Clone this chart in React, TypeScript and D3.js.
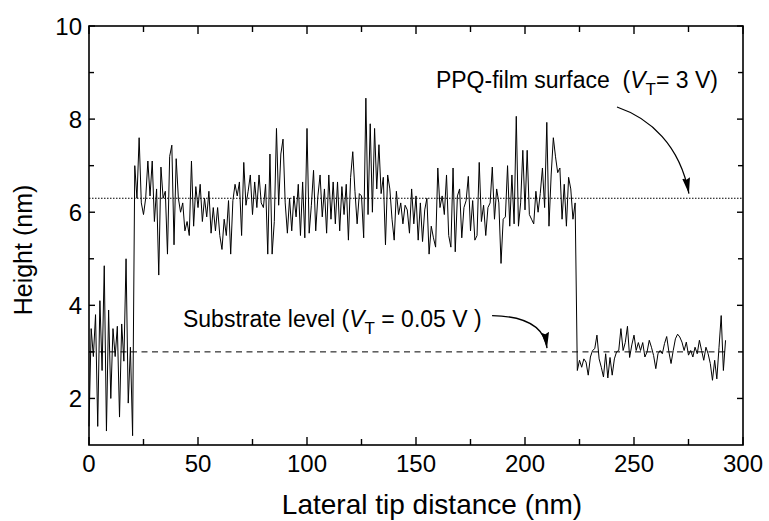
import React, { useEffect, useRef } from "react";
import * as d3 from "d3";

// height profile sampled every `sampleStep` nm along the scan line
const sampleStep = 1;

// bare substrate at the start of the scan (0-20 nm)
const substrateLeft = [
  1.4, 3.5, 2.9, 3.8, 1.4, 4.1, 2.6, 4.85, 1.3, 3.9, 2.0, 3.5, 2.9, 3.55, 1.6,
  3.6, 2.8, 5.0, 1.9, 3.1, 1.2,
];

// PPQ film (21-223 nm)
const filmProfile = [
  7.0, 6.3, 7.6, 6.2, 5.95, 6.3, 7.1, 6.35, 7.1, 5.8, 6.5, 4.65, 6.97, 6.3, 6.45,
  5.1, 7.2, 7.44, 5.3, 7.15, 6.3, 6.0, 6.2, 5.6, 5.8, 5.5, 7.1,
  5.7, 6.55, 6.1, 6.6, 5.8, 6.3, 5.9, 6.45, 5.55, 6.1, 5.6, 6.1, 5.5, 5.2, 5.85,
  5.5, 6.25, 5.1, 6.25, 6.6, 6.35, 6.65, 5.5, 7.07, 6.15, 6.45, 6.8, 5.95, 6.65,
  6.1, 6.8, 6.2, 6.1, 6.6, 5.1, 7.25, 5.1, 5.8, 7.8, 6.15, 7.25, 7.57, 6.2, 5.55,
  6.3, 5.6, 6.35, 5.9, 6.6, 5.5, 6.65, 5.45,
  7.8, 5.55, 6.15, 6.9, 5.6, 6.35, 6.8, 5.9, 6.5, 5.55, 6.8, 5.85, 6.65, 5.75,
  6.65, 5.6, 6.55, 5.95, 6.6, 5.4, 6.75, 7.3, 6.45, 5.75, 6.4, 6.35, 5.45, 8.45,
  5.95, 7.9, 6.0, 7.8, 6.5, 7.45, 6.4, 6.75, 5.3, 6.8, 6.5, 5.85, 5.4, 6.45, 5.95,
  6.2, 5.75, 6.15, 6.05, 5.55,
  6.5, 5.75, 6.35, 5.4, 6.2, 5.37, 6.05, 6.3, 5.1, 5.7, 5.45, 5.25, 6.95, 6.1,
  6.35, 5.95, 6.8, 5.5, 5.25, 6.95, 5.15, 6.35, 6.5, 5.45, 6.1, 6.25, 6.77, 5.6,
  6.25, 5.4, 5.5, 7.07, 5.8, 6.15, 5.5, 6.1, 6.2, 6.97, 5.85, 6.5, 6.2, 4.9, 5.85,
  5.9, 7.0, 5.7, 6.8, 5.75,
  8.06, 5.7, 6.2, 7.33, 6.05, 7.33, 5.95, 5.85, 5.75, 6.45, 6.0, 6.4, 6.95, 6.1,
  7.93, 5.7, 6.8, 7.6, 7.19, 6.85, 6.95, 5.85, 6.6, 5.7, 6.75, 6.5, 5.85, 6.2,
];

// substrate after the film edge (224-292 nm)
const substrateRight = [
  2.6, 2.82, 2.67, 2.85, 2.78, 2.5, 2.89, 3.03, 3.07, 3.36, 2.85, 2.67, 2.46, 2.96,
  2.44, 2.88, 2.5, 2.85, 3.0, 3.03, 3.5, 3.03, 3.2, 3.55, 2.88, 3.15, 3.36, 3.03,
  3.2, 3.03, 3.2, 2.89, 3.0, 3.25, 3.1, 2.92, 2.64, 2.96, 3.03, 2.96, 3.18, 3.33,
  3.0, 2.75, 3.03, 3.28, 3.38, 3.32, 3.21, 3.03, 3.21, 2.93, 3.03, 2.89, 3.1, 2.96,
  3.25, 3.03, 2.82, 3.1, 2.96, 2.75, 2.39, 2.82, 2.42, 3.1, 3.78, 2.6, 3.25,
];

const filmLevel = 6.3;
const substrateLevel = 3.0;

const xMajorTicks = [0, 50, 100, 150, 200, 250, 300];
const xMinorTicks = [25, 75, 125, 175, 225, 275];
const yMajorTicks = [2, 4, 6, 8, 10];
const yMinorTicks = [3, 5, 7, 9];

const FONT = "'Liberation Sans', Arial, Helvetica, sans-serif";

export default function App() {
  const svgRef = useRef<SVGSVGElement>(null);

  useEffect(() => {
    const width = 769;
    const height = 521;
    const margin = { top: 26, right: 26, bottom: 76, left: 89 };
    const w = width - margin.left - margin.right;
    const h = height - margin.top - margin.bottom;

    const heights = [...substrateLeft, ...filmProfile, ...substrateRight];
    const data = heights.map((v, i) => ({ x: i * sampleStep, y: v }));
    const lastX = data[data.length - 1].x;

    const svg = d3.select(svgRef.current);
    svg.selectAll("*").remove();

    const x = d3.scaleLinear().domain([0, 300]).range([0, w]);
    const y = d3.scaleLinear().domain([1, 10]).range([h, 0]);

    const defs = svg.append("defs");
    defs
      .append("marker")
      .attr("id", "head")
      .attr("markerUnits", "userSpaceOnUse")
      .attr("markerWidth", 18)
      .attr("markerHeight", 10)
      .attr("refX", 16)
      .attr("refY", 4)
      .attr("orient", "auto")
      .append("path")
      .attr("d", "M0,0 L16,4 L0,8 L2,4 Z")
      .attr("fill", "#000");

    const g = svg
      .append("g")
      .attr("transform", `translate(${margin.left},${margin.top})`);

    // reference levels
    g.append("line")
      .attr("x1", x(0))
      .attr("x2", x(300))
      .attr("y1", y(filmLevel))
      .attr("y2", y(filmLevel))
      .attr("stroke", "#000")
      .attr("stroke-width", 1)
      .attr("stroke-dasharray", "1.5,1.5");

    g.append("line")
      .attr("x1", x(0))
      .attr("x2", x(lastX))
      .attr("y1", y(substrateLevel))
      .attr("y2", y(substrateLevel))
      .attr("stroke", "#000")
      .attr("stroke-width", 1)
      .attr("stroke-dasharray", "6,4.5");

    // height profile
    const line = d3
      .line<{ x: number; y: number }>()
      .x((d) => x(d.x))
      .y((d) => y(d.y));

    g.append("path")
      .datum(data)
      .attr("fill", "none")
      .attr("stroke", "#000")
      .attr("stroke-width", 1)
      .attr("d", line);

    // frame
    g.append("rect")
      .attr("width", w)
      .attr("height", h)
      .attr("fill", "none")
      .attr("stroke", "#000")
      .attr("stroke-width", 1.6);

    // inward ticks on all four sides
    const tick = (x1, y1, x2, y2) =>
      g
        .append("line")
        .attr("x1", x1)
        .attr("y1", y1)
        .attr("x2", x2)
        .attr("y2", y2)
        .attr("stroke", "#000")
        .attr("stroke-width", 1.4);

    xMajorTicks.forEach((t) => {
      tick(x(t), h, x(t), h - 8);
      tick(x(t), 0, x(t), 8);
    });
    xMinorTicks.forEach((t) => {
      tick(x(t), h, x(t), h - 6);
      tick(x(t), 0, x(t), 6);
    });
    yMajorTicks.forEach((t) => {
      tick(0, y(t), 6, y(t));
      tick(w, y(t), w - 6, y(t));
    });
    yMinorTicks.forEach((t) => {
      tick(0, y(t), 5, y(t));
      tick(w, y(t), w - 5, y(t));
    });

    // tick labels
    g.selectAll(".xlab")
      .data(xMajorTicks)
      .join("text")
      .attr("x", (d) => x(d))
      .attr("y", h + 27)
      .attr("text-anchor", "middle")
      .attr("font-family", FONT)
      .attr("font-size", 24)
      .attr("fill", "#000")
      .text((d) => d);

    g.selectAll(".ylab")
      .data(yMajorTicks)
      .join("text")
      .attr("x", -7)
      .attr("y", (d) => y(d) + 8.5)
      .attr("text-anchor", "end")
      .attr("font-family", FONT)
      .attr("font-size", 24)
      .attr("fill", "#000")
      .text((d) => d);

    // axis titles
    svg
      .append("text")
      .attr("x", margin.left + 343)
      .attr("y", 514)
      .attr("text-anchor", "middle")
      .attr("font-family", FONT)
      .attr("font-size", 28)
      .attr("fill", "#000")
      .text("Lateral tip distance (nm)");

    svg
      .append("text")
      .attr("transform", "translate(32,250) rotate(-90)")
      .attr("text-anchor", "middle")
      .attr("font-family", FONT)
      .attr("font-size", 25)
      .attr("fill", "#000")
      .text("Height (nm)");

    // annotations
    const label = (tx, ty, anchor, pre, post) => {
      const t = g
        .append("text")
        .attr("x", x(tx))
        .attr("y", y(ty))
        .attr("text-anchor", anchor)
        .attr("font-family", FONT)
        .attr("font-size", 23)
        .attr("fill", "#000")
        .style("white-space", "pre");
      t.append("tspan").text(pre);
      t.append("tspan").attr("font-style", "italic").text("V");
      t.append("tspan").attr("font-size", 17).attr("dy", 7).text("T");
      t.append("tspan").attr("dy", -7).text(post);
    };

    label(43.1, 3.53, "start", "Substrate level (", " = 0.05 V )");
    label(288.5, 8.67, "end", "PPQ-film surface  (", "= 3 V)");

    // arrows
    g.append("path")
      .attr(
        "d",
        `M${x(184.9)},${y(3.78)} Q${x(208.3)},${y(3.76)} ${x(210.1)},${y(3.08)}`
      )
      .attr("fill", "none")
      .attr("stroke", "#000")
      .attr("stroke-width", 1.3)
      .attr("marker-end", "url(#head)");

    g.append("path")
      .attr(
        "d",
        `M${x(242.2)},${y(8.26)} C${x(257.3)},${y(8.02)} ${x(271.1)},${y(7.44)} ${x(275.2)},${y(6.4)}`
      )
      .attr("fill", "none")
      .attr("stroke", "#000")
      .attr("stroke-width", 1.3)
      .attr("marker-end", "url(#head)");
  }, []);

  return (
    <div style={{ position: "absolute", left: 0, top: 0, background: "#fff" }}>
      <svg ref={svgRef} width={769} height={521} />
    </div>
  );
}
